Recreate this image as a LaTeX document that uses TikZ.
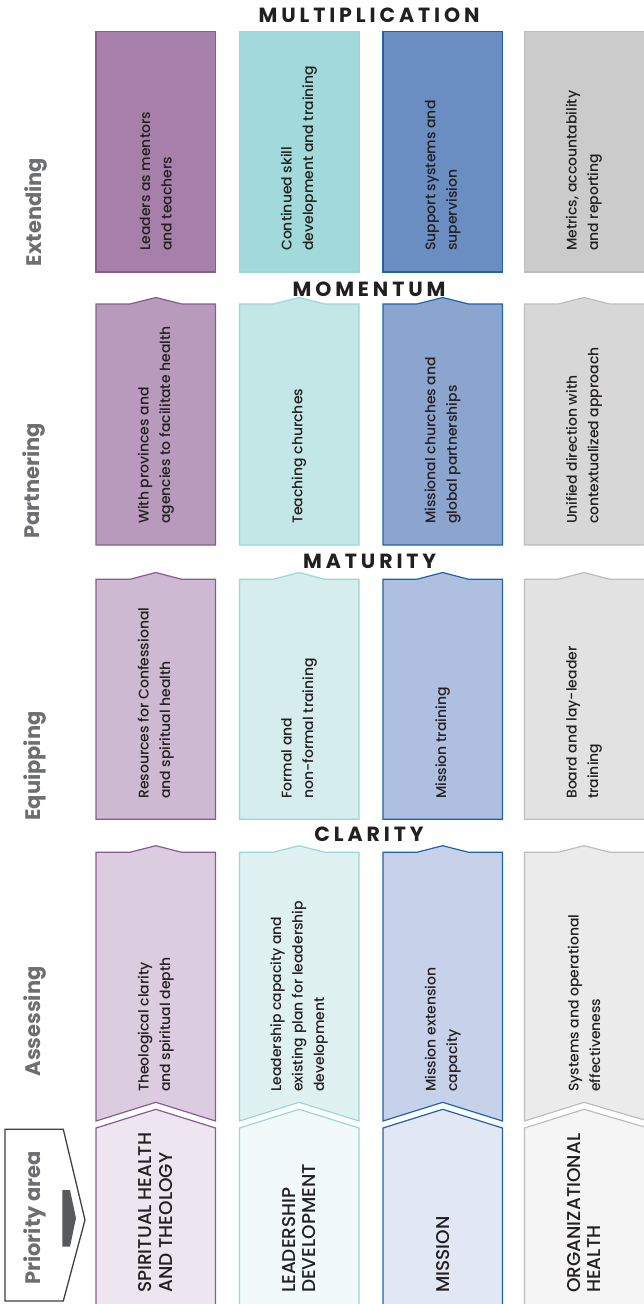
\documentclass[tikz,border=0pt]{standalone}
\usepackage{fontspec}
\setmainfont{Poppins}
\IfFontExistsTF{Poppins Medium}{\newfontfamily\medfont{Poppins Medium}}{\newfontfamily\medfont{Poppins}[FakeBold=0.3]}
\newfontfamily\headfont{Poppins}[LetterSpace=19]
\definecolor{ink}{HTML}{231F20}
\definecolor{lbl}{HTML}{6D6E71}
\definecolor{pb}{HTML}{8B5A93}
\definecolor{p1}{HTML}{A680AA}
\definecolor{p2}{HTML}{B89ABD}
\definecolor{p3}{HTML}{CDB9D1}
\definecolor{p4}{HTML}{DBCCDF}
\definecolor{p5}{HTML}{EDE5EF}
\definecolor{tb}{HTML}{9AD7D9}
\definecolor{t1}{HTML}{A2D9DA}
\definecolor{t2}{HTML}{C3E6E6}
\definecolor{t3}{HTML}{D5EDED}
\definecolor{t4}{HTML}{E0F1F1}
\definecolor{t5}{HTML}{F1F9F9}
\definecolor{bb}{HTML}{1D64AE}
\definecolor{b1}{HTML}{6A8DC2}
\definecolor{b2}{HTML}{8CA5CF}
\definecolor{b3}{HTML}{AEBFDF}
\definecolor{b4}{HTML}{C7D2EA}
\definecolor{b5}{HTML}{E1E7F3}
\definecolor{gb}{HTML}{BDBDBD}
\definecolor{g1}{HTML}{CBCBCB}
\definecolor{g2}{HTML}{D7D7D7}
\definecolor{g3}{HTML}{E2E2E2}
\definecolor{g4}{HTML}{EBEBEB}
\definecolor{g5}{HTML}{F5F5F5}
\definecolor{arrowline}{HTML}{414042}
\definecolor{arrowfill}{HTML}{58595B}
\tikzset{
  boxtxt/.style={rotate=90, anchor=west, align=left, inner sep=0pt, text=ink, font=\medfont\fontsize{14}{21.5}\selectfont},
  priotxt/.style={rotate=90, anchor=west, align=left, inner sep=0pt, text=ink, font=\medfont\fontsize{18.5}{20.5}\selectfont},
  rowlbl/.style={rotate=90, anchor=base, inner sep=0pt, text=lbl, font=\bfseries\fontsize{21}{21}\selectfont},
  headtxt/.style={anchor=center, inner sep=0pt, text=ink, font=\headfont\bfseries\fontsize{20.5}{20.5}\selectfont},
  colbox/.style={line width=1.2pt, line join=miter},
}
\begin{document}
\begin{tikzpicture}[x=1pt,y=-1pt]
\useasboundingbox (0,0) rectangle (643,1304);
\fill[white] (0,0) rectangle (643,1304);
% column boxes
\foreach \l/\r/\c/\bc/\k in {96/215.5/155.8/pb/p, 239.5/359/299/tb/t, 383/502.5/442.7/bb/b, 524.5/648/584/gb/g}{
  \filldraw[colbox, draw=\bc, fill=\k1] (\l,31.7) rectangle (\r,272);
  \filldraw[colbox, draw=\bc, fill=\k2] (\l,304) -- (\c-26,304) -- (\c,297.5) -- (\c+26,304) -- (\r,304) -- (\r,545) -- (\l,545) -- cycle;
  \filldraw[colbox, draw=\bc, fill=\k3] (\l,579.3) -- (\c-26,579.3) -- (\c,572.5) -- (\c+26,579.3) -- (\r,579.3) -- (\r,819.3) -- (\l,819.3) -- cycle;
  \filldraw[colbox, draw=\bc, fill=\k4] (\l,852.3) -- (\c-26,852.3) -- (\c,845.7) -- (\c+26,852.3) -- (\r,852.3) -- (\r,1121) -- (\c,1102.3) -- (\l,1121) -- cycle;
  \filldraw[colbox, draw=\bc, fill=\k5] (\l,1128) -- (\c,1109.3) -- (\r,1128) -- (\r,1312) -- (\l,1312) -- cycle;
}
% headings
\node[headtxt] (hmult) at (369,15) {MULTIPLICATION};
\node[headtxt] (hmom) at (369,289) {MOMENTUM};
\node[headtxt] (hmat) at (369.7,561) {MATURITY};
\node[headtxt] (hcla) at (369,834.7) {CLARITY};
% row labels
\node[rowlbl] (lext) at (41,212) {Extending};
\node[rowlbl] (lpar) at (39,481) {Partnering};
\node[rowlbl] (lequ) at (40,766) {Equipping};
\node[rowlbl] (lass) at (40,1021.5) {Assessing};
% priority area arrow
\draw[line width=1.3pt, draw=arrowline, line join=miter] (5,1129.3) -- (63.3,1129.3) -- (85,1220) -- (63.3,1301) -- (5,1301) -- cycle;
\fill[arrowfill] (62.3,1190) -- (70,1190) -- (76,1218) -- (70,1246.7) -- (62.3,1246.7) -- cycle;
\node[rowlbl] (lpri) at (40,1218) {Priority area};
% Extending
\node[boxtxt] (e1) at (155.8,251) {Leaders as mentors\\and teachers};
\node[boxtxt] (e2) at (299,251) {Continued skill\\development and training};
\node[boxtxt] (e3) at (442.7,251) {Support systems and\\supervision};
\node[boxtxt] (e4) at (584,251) {Metrics, accountability\\and reporting};
% Partnering
\node[boxtxt] (p1n) at (155.8,524) {With provinces and\\agencies to facilitate health};
\node[boxtxt] (p2n) at (299,524) {Teaching churches};
\node[boxtxt] (p3n) at (442.7,524) {Missional churches and\\global partnerships};
\node[boxtxt] (p4n) at (584,524) {Unified direction with\\contextualized approach};
% Equipping
\node[boxtxt] (q1) at (155.8,799) {Resources for Confessional\\and spiritual health};
\node[boxtxt] (q2) at (299,799) {Formal and\\non-formal training};
\node[boxtxt] (q3) at (442.7,799) {Mission training};
\node[boxtxt] (q4) at (584,799) {Board and lay-leader\\training};
% Assessing
\node[boxtxt] (a1) at (155.8,1092) {Theological clarity\\and spiritual depth};
\node[boxtxt] (a2) at (299,1092) {Leadership capacity and\\existing plan for leadership\\development};
\node[boxtxt] (a3) at (442.7,1092) {Mission extension\\capacity};
\node[boxtxt] (a4) at (584,1092) {Systems and operational\\effectiveness};
% Priority
\node[priotxt] (r1) at (155.8,1293) {SPIRITUAL HEALTH\\AND THEOLOGY};
\node[priotxt] (r2) at (299,1293) {LEADERSHIP\\DEVELOPMENT};
\node[priotxt] (r3) at (442.7,1293) {MISSION};
\node[priotxt] (r4) at (584,1293) {ORGANIZATIONAL\\HEALTH};
\end{tikzpicture}
\end{document}
